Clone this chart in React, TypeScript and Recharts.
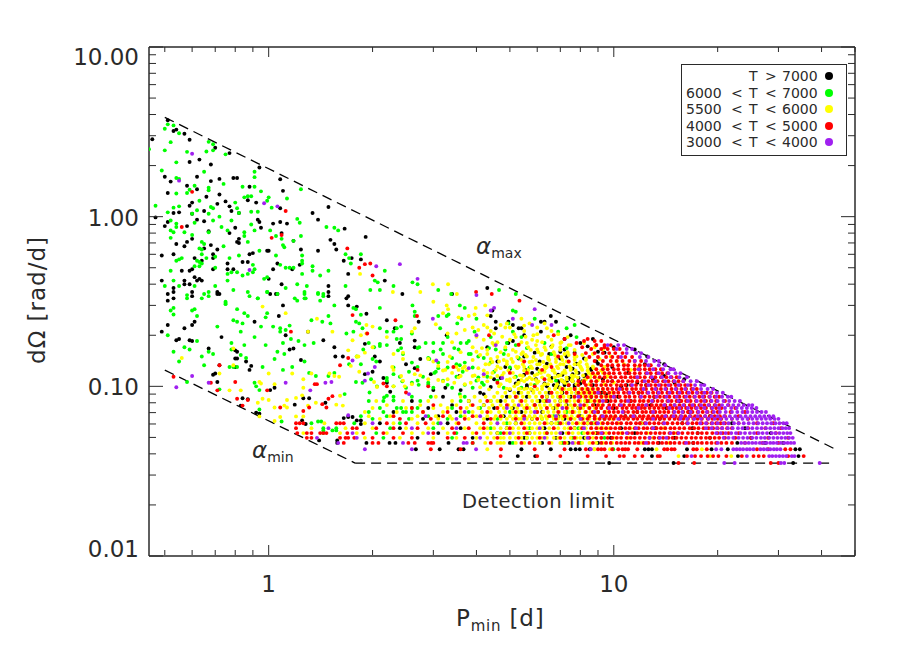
import { Legend, ReferenceLine, Scatter, ScatterChart, XAxis, YAxis } from 'recharts'

const X_TICKS = [0.5, 0.6, 0.7, 0.8, 0.9, 1, 2, 3, 4, 5, 6, 7, 8, 9, 10, 20, 30, 40, 50]
const Y_TICKS = [0.01, 0.02, 0.03, 0.04, 0.05, 0.06, 0.07, 0.08, 0.09, 0.1, 0.2, 0.3, 0.4, 0.5, 0.6, 0.7, 0.8, 0.9, 1, 2, 3, 4, 5, 6, 7, 8, 9, 10]
const X_MAJOR = [1, 10]
const Y_MAJOR = [0.01, 0.1, 1, 10]

const ALPHA_MAX = [{ x: 0.5, y: 3.85 }, { x: 44.5, y: 0.042 }]
const ALPHA_MIN = [{ x: 0.5, y: 0.1246 }, { x: 1.78, y: 0.0353 }]
const DETECTION = [{ x: 1.78, y: 0.0353 }, { x: 43.5, y: 0.0353 }]

const LEGEND = [
  { low: '', high: '7000', sign: '>', color: '#000000' },
  { low: '6000', high: '7000', sign: '<', color: '#00ff00' },
  { low: '5500', high: '6000', sign: '<', color: '#ffff00' },
  { low: '4000', high: '5000', sign: '<', color: '#ff0000' },
  { low: '3000', high: '4000', sign: '<', color: '#a020f0' },
]

// scattered stars, [Pmin, dOmega]
const blackPoints = [[.51,3.7],[.53,3.2],[.54,3.26],[.57,3.08],[.59,2.84],[.46,2.86],[.7,2.55],[.77,2.37],[.59,2.1],[.63,2.17],[.68,2.03],[.94,1.95],[1.08,1.66],[.5,1.72],[.52,1.61],[.62,1.72],[.68,1.62],[.72,1.67],[.79,1.69],[.81,1.69],[.58,1.52],[.62,1.45],[.88,1.5],[1.1,1.42],[.51,1.38],[.72,1.35],[.66,1.31],[.6,1.21],[.59,1.16],[.71,1.19],[.75,1.23],[.77,1.15],[.92,1.21],[.87,1.25],[.55,1.06],[.53,1.05],[.6,1.04],[.65,1.08],[.82,1.05],[.78,1.08],[1.08,1.12],[1.49,1.14],[1.34,1.05],[1.39,.96],[.62,.96],[.65,.94],[.47,.99],[.51,.93],[.5,.88],[.58,.88],[.93,.96],[.94,.93],[.8,.86],[.95,.86],[1.03,.91],[1.08,.93],[1.13,.91],[1.66,.85],[1.51,.73],[1.55,.69],[1.57,.64],[1.91,.76],[1.09,.8],[1.18,.72],[.58,.71],[.54,.69],[.6,.74],[.57,.67],[.77,.8],[.67,.82],[.82,.74],[.81,.71],[.82,.7],[.68,.68],[.65,.65],[.71,.64],[1.39,.63],[1.24,.64],[1,.63],[.88,.6],[.9,.61],[.99,.63],[.49,.59],[.53,.6],[.61,.57],[.64,.55],[.69,.6],[.69,.57],[.76,.53],[.84,.54],[.87,.54],[.79,.49],[.69,.49],[.56,.48],[.59,.48],[.6,.49],[.76,.49],[1.06,.53],[1.23,.52],[1.17,.49],[1,.43],[1.09,.4],[1.03,.49],[1.65,.55],[1.74,.57],[1.85,.56],[1.7,.46],[1.49,.39],[.49,.42],[.57,.42],[.62,.42],[.61,.44],[.63,.43],[.64,.42],[.59,.4],[.57,.4],[.53,.38],[.6,.34],[.72,.35],[.71,.35],[.53,.33],[.51,.32],[1.06,.35],[1.49,.34],[1.68,.33],
[.51,.35],[.53,.36],[.6,.36],[.71,.36],[1.01,.35],[1.05,.35],[1.49,.36],[1.7,.34],[1.8,.295],[1.7,.3],[1.1,.3],[.51,.23],[.49,.21],[.57,.22],[.61,.24],[.6,.23],[.54,.187],[.55,.19],[.59,.187],[.6,.185],[.73,.195],[.91,.24],[1.07,.26],[1.3,.21],[1.12,.2],[1.18,.167],[1.15,.165],[1.44,.187],[1.55,.17],[1.64,.15],[1.56,.15],[.67,.167],[.72,.133],[.7,.119],[.69,.117],[.71,.106],[.8,.146],[.81,.146],[.8,.163],[.81,.16],[.86,.14],[.89,.132],[.88,.125],[1.24,.143],[.8,.13],[.84,.085],[.87,.084],[.83,.077],[.92,.07],[.94,.069],[1.19,.078],[1.26,.085],[1.31,.085],[1.01,.095],[1.04,.098],[1.25,.063],[1.28,.06],[1.4,.048],[1.58,.048],[1.65,.065],[1.8,.063],[1.85,.063],[1.46,.08],[1.7,.066],[1.75,.066],[1.85,.06],
[2.17,.42],[2.44,.35],[3.4,.35],[4.3,.38],[1.92,.268],[2.2,.245],[2.72,.24],[2.32,.22],[4.45,.28],[4.4,.26],[4.55,.24],[4.95,.24],[5.1,.23],[5.3,.22],[5.4,.22],[5.5,.2],[6.57,.26],[6.8,.24],[6.3,.24],[6.15,.24],[6.15,.21],[2.65,.17],[2.65,.186],[3.28,.2],[4.3,.17],[4.55,.22],[4.95,.18],[5.1,.185],[2.4,.18],[1.9,.178],[2.03,.15],[2.1,.14],[2.75,.145],[2.5,.135],[2.65,.128],[2,.122],[1.9,.118],[2.15,.112],[2.95,.118],[3.57,.115],[4.6,.14],[5.5,.15],[4.85,.13],[7.2,.165],[7.5,.11],[7.3,.13],[7.6,.118],[5.55,.125],[6.1,.14],[5.8,.12],[5.95,.11],[5.3,.108],[4.5,.11],[3.25,.098],[3.6,.095],[3,.095],[2.25,.093],[2.2,.105],
[6.5,.155],[7,.16],[7.3,.15],[7.9,.12],[8.2,.115],[8.6,.125],[8.9,.14],[9.3,.11],[9.9,.13],[10.5,.1],[11,.12],[11.7,.105],[12.3,.135],[13,.11],[14,.115],[15,.105],[6.9,.105],[6.4,.1],[5.8,.095],[5,.095],[4.2,.09],[8.4,.095],[9.5,.09],[10,.17],[8,.18],[9,.16],[7.5,.2],[11.5,.165],[12.5,.15],[14,.135],[16,.11]]

const greenPoints = [[.5,3.3],[.51,3.5],[.53,3.45],[.55,3.1],[.52,2.75],[.5,2.46],[.58,2.41],[.54,2.09],[.45,2.5],[.49,1.87],[.67,2.76],[.69,2.46],[.66,2.42],[.69,2.67],[.75,2.33],[.65,1.84],[.91,1.84],[.91,1.71],[1.24,1.45],[.54,1.69],[.55,1.67],[.54,1.37],[.58,1.38],[.59,1.44],[.61,1.52],[.67,1.43],[.67,1.48],[.74,1.56],[.84,1.5],[.91,1.5],[.95,1.41],[1,1.3],[.99,1.24],[1.13,1.28],[.8,1.21],[.47,1.16],[.53,1.13],[.55,1.15],[.63,1.24],[.68,1.14],[.69,1.12],[.85,1.3],[.87,1.32],[.89,1.32],[1.02,1.13],[.51,1.06],[.52,.95],[.62,1.09],[.67,1.04],[.6,1.04],[.72,1],[.78,.95],[.81,1.12],[.82,1.05],[.89,1.07],[.93,1.07],[1.21,.97],[1.23,.92],[.52,.83],[.53,.81],[.54,.91],[.54,.87],[.57,.81],[.6,.78],[.61,.92],[.67,.81],[.69,.95],[.73,.87],[.76,.83],[.85,.81],[.89,.9],[.91,.83],[1.01,.83],[1.05,.77],[1.09,.74],[1.1,.68],[1.24,.77],[1.11,.66],[1.18,.72],[1.47,.87],[1.55,.86],[1.59,.83],[1.85,.6],[1.67,.6],[1.71,.57],[1.73,.53],[.85,.77],[.87,.71],[.52,.75],[.64,.71],[.65,.69],[.74,.67],[.64,.64],[.63,.65],[.64,.6],[.66,.57],[.77,.57],[.82,.59],[.94,.63],[1.05,.59],[1.25,.59],[1.25,.55],[1.25,.53],[1.08,.52],[1.12,.5],[1.15,.5],[1.18,.5],[1.25,.46],[1.34,.51],[1.34,.48],[1.41,.45],[1.49,.48],[1.67,.39],[1.29,.39],[1.21,.4],[.99,.44],[.97,.43],[.61,.51],[.62,.55],[.63,.54],[.64,.53],[.63,.51],[.56,.57],[.55,.56],[.54,.55],[.7,.5],[.7,.58],[.52,.48],[.53,.42],[.5,.39],[.55,.39],[.61,.39],[.7,.39],[.76,.42],[.76,.46],[.78,.47],[.81,.47],[.84,.45],[.87,.46],[.9,.47],[.9,.52],[.91,.49],[.79,.37],[.88,.34],[.99,.36],[1.06,.35],[1.12,.38],[.93,.33],[1.27,.35],[1.39,.35],[1.44,.34],[.64,.33],[.67,.34],[.58,.33],[1.19,.33],[1.27,.33],[1.41,.32],[.75,.31],
[.53,.29],[.52,.28],[.53,.265],[.6,.28],[.61,.285],[.62,.26],[.58,.345],[.65,.35],[.67,.36],[.75,.315],[.75,.305],[.81,.285],[.85,.27],[.87,.26],[.99,.27],[.98,.255],[1.03,.225],[1.08,.22],[1.12,.215],[1.08,.21],[1.15,.228],[.79,.245],[.81,.24],[.84,.235],[.83,.21],[.71,.225],[.95,.225],[.87,.36],[.93,.33],[.99,.36],[1.21,.32],[1.27,.36],[1.28,.33],[1.39,.355],[1.44,.35],[1.49,.26],[1.51,.235],[1.33,.245],[1.43,.24],[1.55,.3],[1.76,.29],[1.79,.285],[1.79,.24],[1.83,.235],[1.76,.21],[1.68,.205],[.51,.2],[.53,.16],[.59,.165],[.57,.17],[.62,.185],[.78,.18],[.78,.165],[.85,.175],[.91,.195],[.98,.175],[1.06,.16],[1.1,.18],[1.11,.155],[1.16,.19],[1.22,.185],[1.27,.175],[1.35,.18],[.64,.15],[.55,.14],[.67,.16],[.69,.155],[.65,.133],[.77,.13],[.79,.13],[.81,.13],[.86,.147],[.83,.153],[1.04,.145],[.96,.13],[1.1,.125],[1.17,.13],[1.27,.14],[1.31,.12],[1.37,.115],[1.49,.115],[1.55,.12],[1.71,.135],[1.8,.15],[.91,.105],[.92,.1],[.94,.095],[.72,.096],[.58,.106],[.94,.073],[1.09,.062],[1.39,.062],[1.42,.062],[1.53,.055],[1.57,.055],[1.44,.055],[1.66,.09],[1.79,.106],[1.87,.105],
[2.03,.42],[2.07,.41],[2.17,.48],[2.3,.39],[2.1,.37],[1.97,.37],[2.61,.41],[2.7,.4],[3.1,.37],[3.38,.35],[2.61,.3],[2.1,.29],[3.58,.3],[4.65,.37],[5.2,.35],[1.85,.264],[2.65,.275],[3.1,.26],[2.65,.26],[2.42,.225],[2.35,.22],[2.1,.22],[2.2,.21],[2.3,.21],[1.87,.22],[3.7,.29],[3.62,.25],[3.52,.235],[3.28,.26],[3.32,.265],[4,.25],[5.1,.28],[5.2,.275],[4.95,.235],[5.9,.25],[7.3,.22],[7.7,.23],[3.14,.22],[3.2,.18],[2.85,.18],[3,.18],[2.73,.17],[2.42,.19],[2.6,.205],[2.35,.19],[2.2,.175],[2.1,.178],[1.95,.18],[2.02,.17],[2.1,.173],[1.88,.165],[2,.145],[2.05,.14],[1.85,.135],[2.37,.163],[2.42,.168],[3,.16],[3.15,.165],[3.55,.165],[3.85,.155],[4.05,.15],[3.75,.18],[3.8,.185],[4.55,.165],[4.85,.165],[5.2,.175],[3.5,.135],[3.58,.133],[3.1,.128],[3.02,.12],[2.7,.13],[2.92,.145],[4.05,.113],[4.15,.105],[2.72,.102],[2.44,.107],[2.6,.105],[2.9,.105],[2.2,.112],[2.3,.118],[1.98,.11],[2.3,.1],[2.06,.1],[1.96,.092],[2.2,.088],[2.16,.086],[2.3,.0825],[3.58,.09]]

const yellowPoints = [[.56,.147],[.96,.295],[1.12,.27],[1.38,.25],[1.3,.21],[1.53,.21],[1.75,.187],[1.7,.163],[1.8,.15],[1.82,.15],[.79,.167],[.79,.133],[.72,.119],[.77,.0947],[.83,.0947],[.94,.106],[1,.119],[.95,.104],[1.04,.103],[1.17,.119],[1.33,.119],[1.26,.11],[1.26,.098],[1.5,.119],[1.55,.115],[1.6,.114],[1.73,.132],[1.83,.122],[.96,.0845],[1,.083],[1.13,.083],[1.2,.0855],[1.25,.0885],[.93,.08],[1.04,.075],[1.08,.066],[1.04,.0625],[1.11,.077],[1.13,.075],[1.2,.0665],[1.26,.0665],[1.37,.08],[1.3,.077],[1.57,.078],[1.61,.088],[1.64,.077],[.94,.0665],
[1.84,.46],[2.99,.4],[3.31,.4],[2.29,.36],[2.75,.36],[3,.315],[3.28,.3],[3.31,.285],[3.51,.35],[4.24,.3],[3.98,.29],[3.95,.265],[3.8,.26],[3.55,.255],[3.2,.27],[4.3,.262],[2,.225],[1.92,.23],[1.85,.2],[1.92,.205],[2.2,.195],[2.6,.21],[2.65,.22],[3.05,.232],[3.3,.205],[3.5,.205],[3.7,.215],[3.9,.222],[4.05,.215],[4.2,.23],[4.3,.222],[4.5,.205],[4.7,.23],[4.85,.222],[5.5,.228],[5.85,.2],[6,.185],[5.4,.25],[6.4,.22],[7,.18],[7.35,.195],[8.2,.18],[2,.17],[1.9,.158],[2.3,.155],[2.45,.158],[2.45,.145],[2.9,.145],[3,.14],[3.1,.132],[3.35,.15],[3.5,.13],[3.25,.125],[3.55,.125],[3.75,.125],[4.05,.128],[4.35,.135],[4.55,.125],[4.45,.12],[4.6,.115],[4.65,.14],[4.45,.18],[4.55,.178],[4.15,.168],[4.3,.155],[4,.16],[5.05,.145],[5.3,.13],[5.5,.13],[5.65,.125],[5.45,.115],[5.8,.11],[6,.118],[6.3,.122],[6.5,.115],[6.7,.125],[7,.135],[7.3,.14],[7.8,.15],[6.45,.145],[6.2,.155],[2.3,.125],[2.28,.13],[2.42,.115],[2.45,.108],[2.48,.1],[2.3,.1],[2.02,.106],[2.06,.099],[2.65,.118],[2.9,.11],[3.3,.11],[3.45,.105],[3.85,.105],[4.1,.0988],[4.35,.096],[4.65,.1],[4.9,.097],[5.15,.1],[5.35,.097],[5.6,.097],[5.85,.094],[6.2,.1],[6.45,.103],[6.8,.1],[7,.098],[7.4,.096],[7.8,.103],[8.3,.11],[8.6,.118],[8.1,.125],[7.6,.112],[8,.09],[8.6,.09],
[5.2,.16],[5.4,.155],[5.6,.15],[5.8,.14],[6.1,.135],[6.4,.13],[6.8,.145],[7.1,.12],[7.5,.125],[7.9,.135],[8.3,.145],[8.7,.155],[9.1,.145],[9.4,.13],[9.8,.15],[10.2,.14],[10.7,.135],[11.2,.125],[11.8,.13],[8.8,.17],[9.3,.165],[7.5,.175],[7.2,.155],[6.6,.17],[6,.165],[5.6,.18],[5.2,.195],[4.9,.14],[4.4,.145],[4.8,.12],[5,.11],[5.3,.105],[5.6,.11],[6,.105],[6.5,.11],[6.9,.115],[7.2,.105],[7.7,.115],[4.2,.115],[3.9,.115],[3.6,.115],[9,.12],[9.6,.115],[10,.105],[8.4,.13],[7.3,.11]]

const redPoints = [[.53,.114],[.72,.133],[.68,.105],[.8,.106],[.71,.0947],[.81,.0845],[.87,.083],[.84,.077],[.99,.0947],[1.16,.21],[1.75,.263],[1.7,.147],[1.61,.133],[1.36,.103],[1.38,.103],[1.49,.0845],[1.53,.0875],[1.43,.0785],[1.47,.075],[1.08,.075],[1.31,.075],[1.26,.0715],
[.6,1.4],[1.12,1.08],[1.09,.78],[1.69,.65],[.56,.87],[1.83,.5],[1.02,.75],[1.97,.53],[2,.45],
[1.9,.525],[2.69,.26],[2.33,.245],[1.93,.205],[3.99,.36],[4.43,.35],[5.33,.32],[4.35,.2],[5.3,.176],[3.43,.13],[2.7,.125],[2.2,.1],[2.5,.092],[2.15,.104],[2.9,.1],
[6.7,.2],[7.2,.19],[7.8,.18],[8.1,.17],[8.4,.19],[8.9,.175],[9.4,.17],[6.9,.15],[7.4,.14],[7.7,.155],[6.2,.125],[6.6,.13],[5.6,.12],[5.9,.1],[6.3,.11],[5,.12],[5.5,.14],[4.6,.105],[8.2,.105]]

const purplePoints = [[.6,2.35],[.55,1.63],[.97,1.2],[1.06,1.15],[.88,.485],[1.46,.105],[1.12,.105],[.54,.0987],[.6,.115],[.67,.105],[1.32,.0947],[1.52,.106],[1.75,.142],[1.7,.0675],[1.94,.119],
[2.05,.51],[2.4,.525],[2.7,.43],[4,.345],[4.4,.28],[4.5,.29],[5.1,.25],[2.99,.25],[4,.2],[2.03,.13],[1.9,.108],[3.8,.128],[4.2,.118],[4.75,.112],[5.9,.285],[5.8,.23],[6.6,.23],[4.55,.175],[3.06,.142],[2.55,.09]]

// the frequency resolution puts most of the slow rotators on discrete rows, [dOmega, Pmin list]
const blackRows = [
  [.0353,[9.7,14.9,33.1]],
  [.0388,[5.27,5.92,12.9,16,22.9,34.3]],
  [.0426,[2.67,3.13,3.55,3.67,5.4,6.57,7.5,7.75,7.97,8.52,12.3,12.6,12.9,16.3,19.2,21.4,33.6,34.6]],
  [.0464,[1.58,1.92,2.24,2.33,3.32,5,6.2,7.4,9,13.5,17,22.8,27.5,31]],
  [.0497,[2.7,3.9,5.5,6.8,8.2,9.8,15,19,25]],
  [.053,[3.1,4.6,5.7,7.1,8.9,11.5,17.5,28.5]],
  [.0567,[2.4,3.6,4.9,6.3,7.7,10.5,13.2,16.9,24]],
  [.0606,[2.1,3.3,5.2,6.6,8.4,12,15.8,22]],
  [.0643,[2.8,4.3,5.8,7.2,9.4,13.6]],
  [.0667,[3.1,4.8,6.9,8,10.8,19]],
  [.0706,[2.3,3.5,5.4,6.2,7.6,9,11.7,16.5]],
  [.0745,[2.9,4.5,5.1,6.7,7.9,10,14.2]],
  [.0775,[3.4,4.2,5.9,7.3,8.8,12.8]],
  [.082,[2.6,3.8,4.7,6.1,7,8.3,9.6,11.2,15.5]],
  [.0868,[3.2,4.9,5.6,6.4,7.5,8.6,10.3,13.1]],
  [.0917,[4.1,5.3,6.5,7.1,7.8,9.2,11.8]],
  [.099,[4.4,5.6,6.9,7.7]],
  [.1017,[5.6,6.7,7.2,7.4,7.7,8.7,10.9,12.4]],
  [.104,[5.2,6.3,7.2,8]],
  [.1073,[6.9,7.1,7.3,7.6,8.1,9.9]],
  [.112,[4.7,6.6,7.4,7.9]],
  [.117,[5.5,6.9,7.1,8.3]],
  [.127,[5,6,7.6,8.6]],
  [.136,[6.4,7.8,9]],
  [.146,[5.3,7,8.2]],
  [.158,[5.9,7.7,9.4]],
  [.172,[6.6,8.4]],
  [.19,[7.2,8.7]],
]
const yellowRows = [
  [.0388,[15.4,19,21.9]],
  [.0426,[4.3,8.77,8.8,9.75,13.3,18]],
  [.0464,[4.24,4.6,4.7,4.8,5.2,5.5,5.9,6.1,6.6,7,7.3,7.7,8.1,8.5,8.9,9.3,9.9,12,14.5]],
  [.0497,[1.9,2.4,3,3.5,4,4.3,4.5,4.7,4.8,5,5.2,5.4,5.6,5.8,6,6.2,6.4,6.7,6.9,7.2,7.5,7.8,8,8.3,8.7,9.2,10,11,13]],
  [.053,[1.26,1.61,1.8,2.2,2.6,2.8,3.3,3.9,4.2,4.4,4.6,4.9,5.1,5.3,5.5,5.7,5.9,6.1,6.3,6.6,6.8,7,7.3,7.6,7.9,8.2,8.5,8.8,9.1,9.5,10.5,12.5,15]],
  [.0567,[1.33,1.67,2,2.5,2.9,3.2,3.7,4.1,4.3,4.5,4.7,4.9,5.1,5.3,5.6,5.8,6,6.2,6.5,6.7,6.9,7.2,7.4,7.7,8,8.3,8.6,9,9.3,9.7,11.2,14]],
  [.0606,[1.45,1.9,2.3,2.7,3,3.5,4,4.4,4.6,4.8,5,5.2,5.5,5.7,5.9,6.1,6.4,6.6,6.8,7.1,7.3,7.6,7.9,8.1,8.4,8.8,9.2,9.6,10.3,12]],
  [.0643,[2.1,2.6,3.1,3.4,3.8,4.2,4.5,4.7,4.9,5.1,5.3,5.4,5.6,5.8,6,6.2,6.4,6.7,6.9,7.1,7.4,7.7,8,8.2,8.5,8.9,9.4,9.9,11]],
  [.0667,[1.95,2.25,2.7,3.05,3.35,3.7,4,4.3,4.55,4.75,5,5.2,5.45,5.7,5.9,6.15,6.35,6.6,6.85,7.05,7.3,7.55,7.85,8.1,8.4,8.8,9.3,10.1]],
  [.0706,[1.9,2.35,2.8,3.2,3.6,3.9,4.15,4.4,4.65,4.85,5.1,5.3,5.55,5.75,6,6.25,6.45,6.7,6.95,7.2,7.45,7.7,7.95,8.25,8.55,8.95,9.5]],
  [.0745,[2,2.5,3,3.3,3.75,4.05,4.35,4.6,4.8,5.05,5.25,5.5,5.7,5.95,6.15,6.4,6.65,6.85,7.1,7.35,7.6,7.9,8.15,8.45,8.8,9.2]],
  [.0775,[2.2,2.75,3.15,3.5,3.85,4.2,4.45,4.7,4.95,5.15,5.4,5.6,5.85,6.1,6.3,6.55,6.8,7,7.25,7.5,7.75,8,8.35,8.7,9.1]],
  [.082,[2.05,2.45,2.9,3.4,3.8,4.1,4.4,4.6,4.85,5.1,5.35,5.55,5.8,6,6.25,6.5,6.75,7,7.2,7.45,7.7,8,8.25,8.6,9,9.4]],
  [.0868,[3.05,3.6,3.95,4.25,4.5,4.75,5,5.25,5.45,5.7,5.95,6.2,6.4,6.65,6.9,7.15,7.4,7.65,7.95,8.2,8.5,8.85,9.25,9.7]],
  [.0917,[4.6,4.85,5.15,5.4,5.65,5.85,6.1,6.35,6.6,6.85,7.05,7.3,7.55,7.8,8.1,8.35,8.65,9,9.4,9.9]],
  [.0965,[5,5.3,5.5,5.75,6,6.2,6.5,6.75,7,7.2,7.5,7.75,8,8.3,8.6,8.95,9.3]],
  [.103,[2.6,3.7,4.7,5.25,5.75,6.3,6.85,7.35,7.85,8.5,9.4]],
  [.107,[3.2,4.3,5,5.5,6.05,6.6,7.1,7.6,8.15,8.9]],
  [.109,[3.1,4.05,4.9,5.4,5.95,6.5,7.05,7.55,8.2,9]],
  [.113,[3.55,4.4,5.15,5.7,6.2,6.75,7.3,7.85,8.55,9.5]],
  [.116,[2.75,3.95,4.75,5.35,5.9,6.45,7,7.55,8.15,8.85]],
  [.12,[3.4,4.3,5.1,5.65,6.15,6.75,7.25,7.8,8.45,9.3]],
  [.124,[3.2,4.2,4.95,5.5,6.1,6.65,7.2,7.75,8.4,9.2]],
  [.128,[3.65,4.7,5.25,5.8,6.35,6.9,7.5,8.05,8.75]],
  [.131,[3.7,4.6,5.2,5.75,6.3,6.85,7.45,8,8.7]],
  [.135,[4.25,4.9,5.45,6,6.55,7.15,7.7,8.35]],
  [.139,[3.3,4.45,5.1,5.7,6.25,6.8,7.4,8]],
  [.143,[3.9,4.8,5.4,5.95,6.5,7.1,7.7,8.3]],
  [.149,[4.6,5.25,5.85,6.45,7.05,7.7]],
  [.153,[4.1,4.95,5.55,6.15,6.75,7.4,8.1]],
  [.159,[3.6,4.7,5.45,6.05,6.7,7.35]],
  [.164,[4.3,5.1,5.75,6.35,7,7.7]],
  [.17,[3.9,4.85,5.65,6.3,7]],
  [.175,[4.5,5.3,5.95,6.65,7.4]],
  [.182,[3.4,4.6,5.4,6.2,7.05]],
  [.188,[4.2,5,5.8,6.6]],
  [.196,[4,4.75,5.55,6.45]],
  [.203,[5.15,6,6.9]],
  [.212,[4.4,5.5,6.6]],
  [.222,[5,6]],
  [.235,[4.9,5.7,6.3]],
]
const greenRows = [
  [.0426,[9.97]],
  [.0464,[3.9,5.1,7.1,8]],
  [.0497,[2.15,3.4,5.6,7.6,9.4]],
  [.053,[1.44,2.05,3.5,4.7,6.4,8.1]],
  [.0567,[1.44,1.57,2.25,3,4.4,5.7,7.9]],
  [.0606,[1.33,1.77,2.4,3.1,4.9,6.9,8.7]],
  [.0643,[2,2.55,3.3,4.6,6.2,7.5]],
  [.0667,[1.85,2.2,2.9,3.6,5.5,6.7]],
  [.0706,[1.95,2.15,2.45,2.5,2.6,3.8,5,7.3]],
  [.0745,[2.1,2.35,2.42,2.6,2.7,3.4,4.1,5.6]],
  [.082,[1.95,2.15,2.75,3.6,4.4,6.3,8.5]],
  [.0868,[2.3,2.6,2.95,3.7,5.2,6.9]],
  [.098,[2.5,3,3.4,3.9,4.8,5.4]],
  [.102,[2.9,3.3,3.7,4.2,5.9]],
  [.108,[2.2,2.7,3.2,4,4.6,6.8]],
  [.114,[2.4,2.8,3.5,4.3,5.2]],
  [.122,[2.55,3.05,3.65,4.5,6.1]],
  [.129,[2.3,3.3,3.9,5,5.7]],
  [.138,[2.6,3.1,3.7,4.4]],
  [.147,[2.9,3.4,4.2,5.3]],
  [.155,[2.45,3.2,3.8,4.8,6.6]],
  [.168,[2.7,3.45,4.35,5.6,7.3]],
  [.18,[3.6,4.9,6.3]],
  [.195,[3.3,4.4,5.4,7.8]],
  [.21,[3.95,5.1,6.9]],
]
const redRows = [
  [.0353,[15.4,17.1,28.5,30]],
  [.0388,[4.7,6,7,8.4,9.5,10.4,10.7,11.5,12.1,13.4,13.6,16.3,17.2,17.9,18.7,19.4,20.1,21.2,23.5,25.4,26.3,27.2,32,35.5]],
  [.0426,[2.95,3.6,4.71,5.9,7.2,8.3,9,9.2,9.4,9.9,10.3,10.6,10.8,11,11.7,14,14.3,14.7,15,17,17.4,18.6,26,28,31.4,32.5]],
  [.0464,[1.65,2,2.08,2.54,2.65,2.9,2.96,3,3.9,4.4,5.4,5.7,6.5,7.2,7.9,8.7,9.2,9.5,9.8,10.2,10.5,10.8,11.1,11.5,11.8,12.2,12.6,13,13.4,13.8,14.2,14.6,15,15.5,16,16.5,17,17.5,18,18.6,19.2,19.8,20.5,21.2,22,24,27,30]],
  [.0497,[1.29,1.33,1.61,1.67,1.7,1.77,2,2.3,2.6,3.3,3.7,4.6,5.3,6.1,7,7.7,8.5,8.9,9.2,9.6,9.9,10.2,10.5,10.9,11.2,11.5,11.9,12.3,12.7,13.1,13.5,13.9,14.4,14.8,15.2,15.7,16.2,16.8,17.3,17.9,18.5,19,19.6,20.2,21,22.5,25,28,32]],
  [.053,[1.21,1.29,1.33,1.41,1.44,1.47,1.69,1.88,2.15,2.45,3,3.45,4,4.8,5.6,6.4,7.4,8.4,8.7,9,9.3,9.7,10,10.3,10.6,11,11.3,11.7,12,12.4,12.8,13.2,13.6,14,14.5,14.9,15.3,15.8,16.4,16.9,17.5,18,18.6,19.3,20,20.7,21.5,23,26,29.5]],
  [.0567,[1.2,1.75,1.8,2.05,2.3,2.7,3.4,3.8,4.2,5,5.5,6.7,7.5,8.1,8.6,8.9,9.2,9.5,9.8,10.1,10.4,10.8,11.1,11.5,11.8,12.2,12.5,12.9,13.3,13.7,14.1,14.6,15,15.5,16,16.6,17.1,17.6,18.2,18.8,19.4,20,20.6,21.3,22,24.5,27.5,30.5]],
  [.0606,[1.2,1.23,1.26,1.57,1.61,1.65,2.2,2.5,2.85,3.55,4.2,5.4,6.3,7,7.8,8.2,8.6,8.9,9.3,9.6,9.9,10.2,10.5,10.9,11.2,11.6,11.9,12.3,12.7,13.1,13.5,13.9,14.3,14.8,15.3,15.8,16.3,16.9,17.4,18,18.6,19.2,19.8,20.4,21,23,26,29]],
  [.0643,[2.4,2.95,3.7,4.4,5.2,6,6.8,7.5,8.1,8.4,8.8,9.1,9.4,9.7,10,10.4,10.7,11,11.4,11.7,12.1,12.5,12.8,13.2,13.6,14,14.5,15,15.4,15.9,16.4,17,17.5,18,18.7,19.3,20,20.5,22,24.5]],
  [.0667,[2.3,3.2,3.9,4.7,5.5,6.5,7.2,7.9,8.5,8.8,9.2,9.5,9.8,10.1,10.5,10.8,11.2,11.5,11.9,12.2,12.6,13,13.4,13.8,14.2,14.7,15.1,15.6,16.1,16.7,17.2,17.8,18.4,19,19.6,20.3,21,23]],
  [.0706,[2.8,3.3,4.3,5.2,6,6.9,7.6,8.3,8.7,9,9.4,9.7,10,10.3,10.7,11,11.4,11.7,12.1,12.4,12.8,13.2,13.6,14,14.4,14.9,15.4,15.9,16.4,16.9,17.5,18.1,18.7,19.3,20,21.8,24]],
  [.0745,[2.6,3.6,4.6,5.6,6.4,7.3,8,8.5,8.9,9.2,9.6,9.9,10.2,10.6,10.9,11.3,11.6,12,12.3,12.7,13.1,13.5,13.9,14.3,14.8,15.2,15.7,16.2,16.8,17.3,17.9,18.5,19.2,19.8,20.5,22.5]],
  [.0775,[3,3.9,4.9,5.9,6.9,7.7,8.2,8.7,9,9.3,9.7,10,10.4,10.7,11.1,11.4,11.8,12.1,12.5,12.9,13.3,13.7,14.1,14.6,15,15.5,16,16.6,17.1,17.7,18.3,18.9,19.6,20.2,21.5]],
  [.082,[4.3,5.4,6.4,7.3,7.9,8.4,8.8,9.1,9.5,9.8,10.1,10.5,10.8,11.2,11.5,11.9,12.2,12.6,13,13.4,13.8,14.3,14.7,15.2,15.7,16.2,16.7,17.3,17.9,18.5,19.1,19.8,21]],
  [.0868,[5.2,6.2,7,7.7,8,8.3,8.6,8.9,9.2,9.5,9.8,10.1,10.4,10.8,11.1,11.5,11.9,12.3,12.7,13.1,13.6,14,14.5,15,15.5,16,16.6,17.1,17.7,18.3,18.9,19.6,20.2]],
  [.0917,[6.6,7.3,7.9,8.2,8.5,8.8,9.1,9.4,9.7,10,10.3,10.7,11,11.4,11.8,12.1,12.5,13,13.4,13.8,14.3,14.8,15.3,15.8,16.3,16.9,17.5,18,18.6,19.2]],
  [.0965,[7.1,7.7,8.1,8.4,8.7,9,9.3,9.6,9.9,10.2,10.6,10.9,11.3,11.6,12,12.4,12.9,13.3,13.7,14.2,14.7,15.2,15.7,16.2,16.8,17.4]],
  [.1017,[7.4,7.9,8.3,8.6,8.9,9.2,9.5,9.8,10.2,10.5,10.8,11.2,11.6,12,12.4,12.8,13.2,13.7,14.1,14.6,15.1,15.6,16.1,16.7]],
  [.1073,[7.9,8.2,8.6,8.9,9.3,9.6,9.9,10.3,10.6,11,11.3,11.7,12.1,12.6,13,13.4,13.9,14.4,14.9,15.4,15.9]],
  [.1133,[8.4,8.8,9.1,9.4,9.8,10.1,10.5,10.8,11.2,11.5,11.9,12.3,12.8,13.2,13.7,14.2,14.7,15.2]],
  [.1196,[8.7,9,9.4,9.7,10,10.4,10.8,11.1,11.5,11.9,12.4,12.8,13.3,13.8,14.3]],
  [.126,[8.9,9.3,9.6,10,10.3,10.7,11,11.5,11.9,12.3,12.7,13.2,13.7]],
  [.133,[9.2,9.6,9.9,10.3,10.7,11,11.5,11.9,12.3,12.8]],
  [.141,[8.8,9.3,9.8,10.2,10.6,11.1,11.5,12]],
  [.149,[8.5,9,9.5,9.9,10.3,10.8,11.3]],
  [.157,[8.3,8.8,9.3,9.7,10.1,10.6]],
  [.166,[8.6,9.2,9.6,10,10.4]],
  [.175,[8.9,9.4,9.8]],
  [.185,[8.2,8.8,9.2]],
]
const purpleRows = [
  [.0353,[20.9,22.4,30.5,31.2,39.5]],
  [.0388,[16.8,24.3,28.2,28.8,29.5,30.2,30.9,31.6,32.8,33.4]],
  [.0426,[1.9,2.6,3.99,8.58,19.8,20.5,22.2,22.7,23.2,23.7,24.3,24.8,25.4,26.6,27.2,27.8,28.4,29.1,29.7,30.4]],
  [.0464,[1.59,2.45,3.67,3.75,7.6,12.4,16.2,20,23.4,24,24.6,25.2,25.8,26.5,27.1,27.7,28.4,29,29.7,30.5,31.2,31.9,32.6,33.3]],
  [.0497,[1.38,1.8,4.1,6.3,8.4,12.7,13.6,14.2,20.8,21.5,22.2,23,23.7,24.4,25.2,25.9,26.7,27.4,28.2,29,29.8,30.6,31.4,32.2,33]],
  [.053,[1.75,2.9,5,7,9.2,10.9,14.6,15.4,19.8,20.4,21.1,21.9,22.6,23.3,24,24.8,25.5,26.3,27,27.8,28.7,29.4,30.2,31,31.8,32.5]],
  [.0567,[1.49,2.6,3.5,6.1,8.2,11.6,13,18.5,19.2,19.9,20.6,21.4,22.1,22.9,23.6,24.4,25.2,26,26.8,27.6,28.4,29.2,30,30.8,31.5,32.2]],
  [.0606,[2,3.15,4.6,7.4,9,12.4,14,16.4,17.8,18.5,19.3,20,20.8,21.5,22.3,23,23.8,24.6,25.4,26.2,27,27.8,28.6,29.4,30.2,31,31.7]],
  [.0643,[3.5,5.5,8,10.3,13,15.6,16.3,17.1,17.9,18.8,19.6,20.4,21.2,22,22.8,23.6,24.4,25.2,26,26.8,27.6,28.4,29.2,30]],
  [.0667,[2.85,4.1,6.8,9.3,11.4,14.1,14.9,15.7,16.6,17.5,18.4,19.2,20,20.9,21.7,22.5,23.3,24.1,24.9,25.7,26.5,27.3,28.2,29]],
  [.0706,[3.7,5.9,8.8,10.6,13,15,15.8,16.7,17.6,18.6,19.5,20.3,21.1,22,22.8,23.6,24.4,25.2,26,26.8,27.6]],
  [.0745,[4.9,7.1,9.7,11.8,14.5,15.5,16.4,17.4,18.3,19.3,20.2,21,21.9,22.7,23.5,24.3,25.1,25.9]],
  [.0775,[5.3,8,10.5,12.4,14,15,15.9,16.9,17.9,18.8,19.7,20.6,21.4,22.2,23,23.8,24.6,25.2]],
  [.082,[6.5,9.3,11,12.9,14.4,15.4,16.4,17.4,18.3,19.2,20,20.8,21.6,22.4,23.2]],
  [.0868,[7.9,10,12,13.3,14.2,15.2,16.2,17.2,18.1,19,19.8,20.6,21.4,21.9]],
  [.0917,[9,11.1,12.6,13.5,14.5,15.5,16.5,17.4,18.3,19.1,19.9,20.7]],
  [.0965,[10.4,12.2,13.2,14.1,15.1,16.1,17,17.9,18.7,19.4]],
  [.1017,[11.3,12.6,13.5,14.4,15.4,16.4,17.2,17.9,18.3]],
  [.1073,[12.3,13.2,14.1,15,15.9,16.7,17.4]],
  [.1133,[11.7,12.9,13.8,14.6,15.5,16.3]],
  [.1196,[12.5,13.5,14.4,15.1,15.6]],
  [.126,[11.8,13,13.9,14.6,14.9]],
  [.133,[12.6,13.5,14.1]],
  [.141,[11.5,12.4,13.1,13.5]],
  [.149,[10.5,11.9,12.6]],
  [.157,[10.9,11.6,12]],
  [.166,[10.2,10.9,11.3]],
  [.175,[9.6,10.3,10.7]],
]

function toData(points: number[][], rows: any[]) {
  const data = points.map(([x, y]) => ({ x, y }))
  rows.forEach(([y, periods]) => periods.forEach((x: number) => data.push({ x, y })))
  return data
}

const SERIES = [
  { name: 'T > 7000', color: '#000000', data: toData(blackPoints, blackRows) },
  { name: '6000 < T < 7000', color: '#00ff00', data: toData(greenPoints, greenRows) },
  { name: '5500 < T < 6000', color: '#ffff00', data: toData(yellowPoints, yellowRows) },
  { name: '4000 < T < 5000', color: '#ff0000', data: toData(redPoints, redRows) },
  { name: '3000 < T < 4000', color: '#a020f0', data: toData(purplePoints, purpleRows) },
]

const FONT = '"DejaVu Sans", sans-serif'
const INK = '#2a2a2a'

function StarDot({ cx, cy, fill }: any) {
  return <circle cx={cx} cy={cy} r={1.95} fill={fill} />
}

function BottomTick({ x, y, payload }: any) {
  const major = X_MAJOR.includes(payload.value)
  return (
    <g>
      <line x1={x} x2={x} y1={y - 1} y2={y - 1 - (major ? 10 : 5)} stroke={INK} />
      {major && <text x={x} y={y + 36} textAnchor="middle" fontSize={23} fontFamily={FONT} fill={INK}>{payload.value}</text>}
    </g>
  )
}

function TopTick({ x, y, payload }: any) {
  const major = X_MAJOR.includes(payload.value)
  return <line x1={x} x2={x} y1={y} y2={y + (major ? 10 : 5)} stroke={INK} />
}

function LeftTick({ x, y, payload }: any) {
  const major = Y_MAJOR.includes(payload.value)
  const shift = payload.value === 10 ? 9 : payload.value === 0.01 ? -8 : 0
  return (
    <g>
      <line x1={x} x2={x + (major ? 14 : 7)} y1={y} y2={y} stroke={INK} />
      {major && <text x={x - 10} y={y + shift + 9} textAnchor="end" fontSize={23} fontFamily={FONT} fill={INK}>{payload.value.toFixed(2)}</text>}
    </g>
  )
}

function RightTick({ x, y, payload }: any) {
  const major = Y_MAJOR.includes(payload.value)
  return <line x1={x} x2={x - (major ? 14 : 7)} y1={y} y2={y} stroke={INK} />
}

function LegendBox() {
  const cell = { position: 'absolute', top: 0 } as const
  return (
    <div style={{ position: 'relative', width: 164, height: 90, border: `1.5px solid ${INK}`, background: '#fff', fontFamily: FONT, fontSize: 14, color: INK, lineHeight: '16px' }}>
      {LEGEND.map((row, i) => (
        <div key={row.high + row.low} style={{ position: 'absolute', left: 0, top: 3 + i * 16.6, width: 164, height: 16 }}>
          <span style={{ ...cell, left: 4 }}>{row.low}</span>
          {row.low && <span style={{ ...cell, left: 49 }}>{'<'}</span>}
          <span style={{ ...cell, left: 67 }}>T</span>
          <span style={{ ...cell, left: 83 }}>{row.sign}</span>
          <span style={{ ...cell, left: 100 }}>{row.high}</span>
          <span style={{ ...cell, left: 143, top: 4, width: 8, height: 8, borderRadius: 4, background: row.color }} />
        </div>
      ))}
    </div>
  )
}

export default function App() {
  return (
    <div style={{ position: 'absolute', left: 0, top: 0, width: 900, height: 650 }}>
      <ScatterChart width={900} height={650} margin={{ top: 46, right: 44, bottom: 93, left: 148 }}>
        <XAxis type="number" dataKey="x" scale="log" domain={[0.45, 50]} ticks={X_TICKS} interval={0} height={1} tickSize={0} tickMargin={0} tickLine={false} tick={BottomTick} stroke={INK} strokeWidth={1.5} allowDataOverflow />
        <XAxis xAxisId="top" orientation="top" type="number" dataKey="x" scale="log" domain={[0.45, 50]} ticks={X_TICKS} interval={0} height={1} tickSize={0} tickMargin={0} tickLine={false} tick={TopTick} stroke={INK} strokeWidth={1.5} allowDataOverflow />
        <YAxis type="number" dataKey="y" scale="log" domain={[0.01, 10]} ticks={Y_TICKS} interval={0} width={1} tickSize={0} tickMargin={0} tickLine={false} tick={LeftTick} stroke={INK} strokeWidth={1.5} allowDataOverflow />
        <YAxis yAxisId="right" orientation="right" type="number" dataKey="y" scale="log" domain={[0.01, 10]} ticks={Y_TICKS} interval={0} width={1} tickSize={0} tickMargin={0} tickLine={false} tick={RightTick} stroke={INK} strokeWidth={1.5} allowDataOverflow />
        {SERIES.map((s) => (
          <Scatter key={s.name} name={s.name} data={s.data} fill={s.color} shape={StarDot} isAnimationActive={false} />
        ))}
        <ReferenceLine segment={ALPHA_MAX} stroke="#000" strokeWidth={1.3} strokeDasharray="10 6" />
        <ReferenceLine segment={ALPHA_MIN} stroke="#000" strokeWidth={1.3} strokeDasharray="10 6" />
        <ReferenceLine segment={DETECTION} stroke="#000" strokeWidth={1.3} strokeDasharray="10 6" />
        <Legend layout="horizontal" align="center" verticalAlign="middle" wrapperStyle={{ left: 681, top: 64, width: 167, height: 93 }} content={LegendBox} />
        <text x={45} y={300} transform="rotate(-90 45 300)" textAnchor="middle" fontSize={23} letterSpacing={1} fontFamily={FONT} fill={INK}>dΩ [rad/d]</text>
        <text x={456} y={626} fontSize={23} letterSpacing={0.8} fontFamily={FONT} fill={INK}>P<tspan fontSize={15} dy={5}>min</tspan><tspan dy={-5}> [d]</tspan></text>
        <text x={476} y={254} fontSize={23} fontStyle="italic" fontFamily={FONT} fill={INK}>α<tspan fontSize={14} fontStyle="normal" dy={4}>max</tspan></text>
        <text x={252} y={458} fontSize={23} fontStyle="italic" fontFamily={FONT} fill={INK}>α<tspan fontSize={14} fontStyle="normal" dy={4}>min</tspan></text>
        <text x={462} y={508} fontSize={19.5} letterSpacing={0.6} fontFamily={FONT} fill={INK}>Detection limit</text>
      </ScatterChart>
    </div>
  )
}
